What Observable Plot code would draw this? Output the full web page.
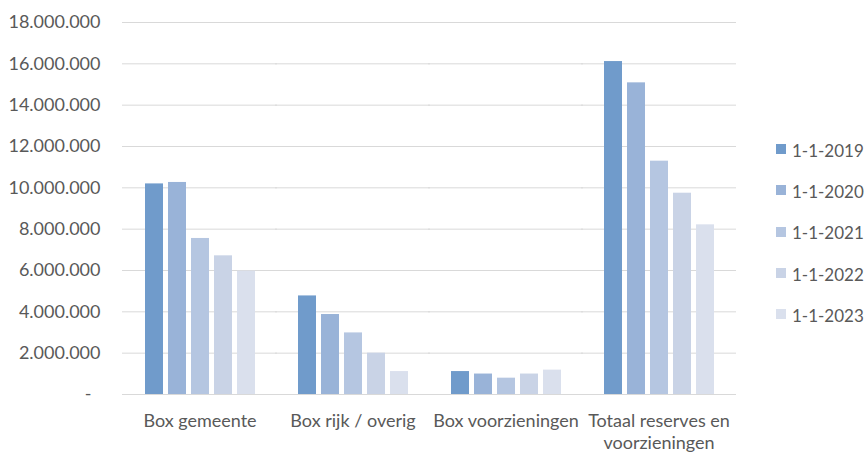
<!DOCTYPE html>
<html>
<head>
<meta charset="utf-8">
<script src="https://cdn.jsdelivr.net/npm/d3@7"></script>
<script src="https://cdn.jsdelivr.net/npm/@observablehq/plot@0.6"></script>
<style>
  html, body { margin: 0; padding: 0; background: #fff; }
  #wrap { position: relative; width: 865px; height: 453px; font-family: Lato, "Open Sans", sans-serif; }
  #legend { position: absolute; left: 776px; top: 129.5px; color: #595959; font-size: 17px; }
  .item { display: flex; align-items: center; height: 41.3px; }
  .sw { width: 10px; height: 10px; margin-right: 6px; margin-top: -2px; }
</style>
</head>
<body>
<div id="wrap"><div id="chart"></div><div id="legend"></div></div>
<script>
const categories = ["Box gemeente", "Box rijk / overig", "Box voorzieningen", "Totaal reserves en voorzieningen"];
const years = ["1-1-2019", "1-1-2020", "1-1-2021", "1-1-2022", "1-1-2023"];
const colors = ["#709bcb", "#99b3d8", "#b5c6e1", "#c9d3e6", "#dae0ed"];
const boxGemeente = [10190000, 10260000, 7550000, 6710000, 5970000];
const boxRijk = [4770000, 3870000, 2980000, 2000000, 1110000];
const boxVoorzieningen = [1110000, 990000, 790000, 990000, 1180000];
const totaal = [16110000, 15080000, 11290000, 9740000, 8210000];
const yTicks = [2000000, 4000000, 6000000, 8000000, 10000000, 12000000, 14000000, 16000000, 18000000];
const zeroTick = [0];

const series = [boxGemeente, boxRijk, boxVoorzieningen, totaal];
const data = [];
categories.forEach((c, i) => years.forEach((y, j) => data.push({category: c, year: y, value: series[i][j]})));

const fmt = v => d3.format(",")(v).replace(/,/g, ".");
const labelFmt = c => c === "Totaal reserves en voorzieningen" ? "Totaal reserves en\nvoorzieningen" : c;

const plot = Plot.plot({
  width: 865,
  height: 453,
  marginLeft: 123,
  marginRight: 129,
  marginTop: 22,
  marginBottom: 59,
  style: {fontFamily: "Lato, 'Open Sans', sans-serif", fontSize: "17px", color: "#595959", background: "#fff"},
  fx: {domain: categories, paddingInner: 0.26, paddingOuter: 0.13, label: null},
  x: {domain: years, paddingInner: 0.22, paddingOuter: 0, axis: null},
  y: {domain: [0, 18000000], label: null},
  color: {domain: years, range: colors},
  marks: [
    Plot.ruleY(zeroTick.concat(yTicks), {y: d => d, stroke: "#d9d9d9", strokeWidth: 1, insetLeft: -21, insetRight: -21}),
    Plot.barY(data, {fx: "category", x: "year", y: "value", fill: "year"}),
    Plot.axisY({ticks: yTicks, tickFormat: fmt, tickSize: 0, tickPadding: 43, fill: "#595959", fontSize: 18}),
    Plot.axisY({ticks: zeroTick, tickFormat: () => "-", tickSize: 0, tickPadding: 52, fill: "#595959", fontSize: 18}),
    Plot.axisFx({anchor: "bottom", tickFormat: labelFmt, tickSize: 0, tickPadding: 18, lineHeight: 1.17, fill: "#595959", fontSize: 18, label: null})
  ]
});
document.getElementById("chart").appendChild(plot);

const legend = document.getElementById("legend");
years.forEach((y, i) => {
  const it = document.createElement("div");
  it.className = "item";
  it.innerHTML = `<div class="sw" style="background:${colors[i]}"></div><span>${y}</span>`;
  legend.appendChild(it);
});
</script>
</body>
</html>
